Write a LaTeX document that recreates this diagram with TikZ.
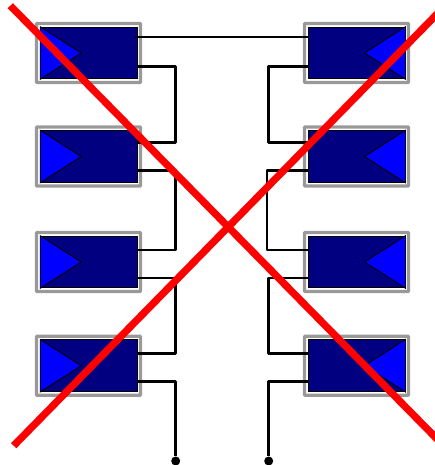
\documentclass[tikz,border=0pt]{standalone}
\tikzset{
  frame/.style={draw=black!40,line width=3.4pt,rounded corners=0.8pt,fill=white,minimum width=104pt,minimum height=59pt,inner sep=0pt},
  body/.style={draw=black,line width=1pt,fill=blue!50!black,minimum width=96.5pt,minimum height=51.5pt,inner sep=0pt},
  wedge/.style={draw=black,line width=0.9pt,fill=blue},
  wire/.style={draw=black,line width=2.5pt,line join=round},
  pin/.style={circle,fill=black,minimum size=9pt,inner sep=0pt},
  cross/.style={draw=red,line width=7.3pt}
}
\begin{document}
\begin{tikzpicture}[x=1pt,y=-1pt]
  \useasboundingbox (0,0) rectangle (435,465);

  % left column
  \node[frame] (fl1) at (88.5,53) {};
  \node[frame] (fl2) at (88.5,156.5) {};
  \node[frame] (fl3) at (88.5,262) {};
  \node[frame] (fl4) at (88.5,365.7) {};
  \node[body] (bl1) at (89,53) {};
  \node[body] (bl2) at (89,156.5) {};
  \node[body] (bl3) at (89,262) {};
  \node[body] (bl4) at (89,365.7) {};
  \filldraw[wedge] (bl1.north west) -- (bl1.south west) -- ([xshift=41pt]bl1.west) -- cycle;
  \filldraw[wedge] (bl2.north west) -- (bl2.south west) -- ([xshift=41pt]bl2.west) -- cycle;
  \filldraw[wedge] (bl3.north west) -- (bl3.south west) -- ([xshift=41pt]bl3.west) -- cycle;
  \filldraw[wedge] (bl4.north west) -- (bl4.south west) -- ([xshift=41pt]bl4.west) -- cycle;

  % right column
  \node[frame] (fr1) at (356.5,53) {};
  \node[frame] (fr2) at (356.5,156.5) {};
  \node[frame] (fr3) at (356.5,262) {};
  \node[frame] (fr4) at (356.5,365.7) {};
  \node[body] (br1) at (356.7,53) {};
  \node[body] (br2) at (356.7,156.5) {};
  \node[body] (br3) at (356.7,262) {};
  \node[body] (br4) at (356.7,365.7) {};
  \filldraw[wedge] (br1.north east) -- (br1.south east) -- ([xshift=-41pt]br1.east) -- cycle;
  \filldraw[wedge] (br2.north east) -- (br2.south east) -- ([xshift=-41pt]br2.east) -- cycle;
  \filldraw[wedge] (br3.north east) -- (br3.south east) -- ([xshift=-41pt]br3.east) -- cycle;
  \filldraw[wedge] (br4.north east) -- (br4.south east) -- ([xshift=-41pt]br4.east) -- cycle;

  % ports
  \coordinate (pl1) at (135,37);
  \coordinate (ql1) at (137,66.7);
  \coordinate (pl2) at (137,142.7);
  \coordinate (ql2) at (137,170.3);
  \coordinate (pl3) at (137,250);
  \coordinate (ql3) at (137,278);
  \coordinate (pl4) at (137,353.3);
  \coordinate (ql4) at (137,381.3);
  \coordinate (pr1) at (308,37);
  \coordinate (qr1) at (308,66.7);
  \coordinate (pr2) at (308,142.7);
  \coordinate (qr2) at (308,170.3);
  \coordinate (pr3) at (308,250);
  \coordinate (qr3) at (308,278);
  \coordinate (pr4) at (308,353.3);
  \coordinate (qr4) at (308,381.3);
  \node[pin] (outl) at (175.7,461) {};
  \node[pin] (outr) at (268.7,461) {};

  \draw[wire] (pl1) -- (pr1);
  \draw[wire] (ql1) -| (175.7,100) |- (pl2);
  \draw[wire] (ql2) -| (175.7,200) |- (pl3);
  \draw[wire] (ql3) -| (175.7,300) |- (pl4);
  \draw[wire] (ql4) -| (outl);
  \draw[wire] (qr1) -| (268.7,100) |- (pr2);
  \draw[wire] (qr2) -| (267,200) |- (pr3);
  \draw[wire] (qr3) -| (268.7,300) |- (pr4);
  \draw[wire] (qr4) -| (outr);

  % crossed out
  \coordinate (xa) at (10.3,5.7);
  \coordinate (xb) at (441,443);
  \coordinate (xc) at (13.7,445.7);
  \coordinate (xd) at (441,10);
  \draw[cross] (xa) -- (xb);
  \draw[cross] (xc) -- (xd);
\end{tikzpicture}
\end{document}
